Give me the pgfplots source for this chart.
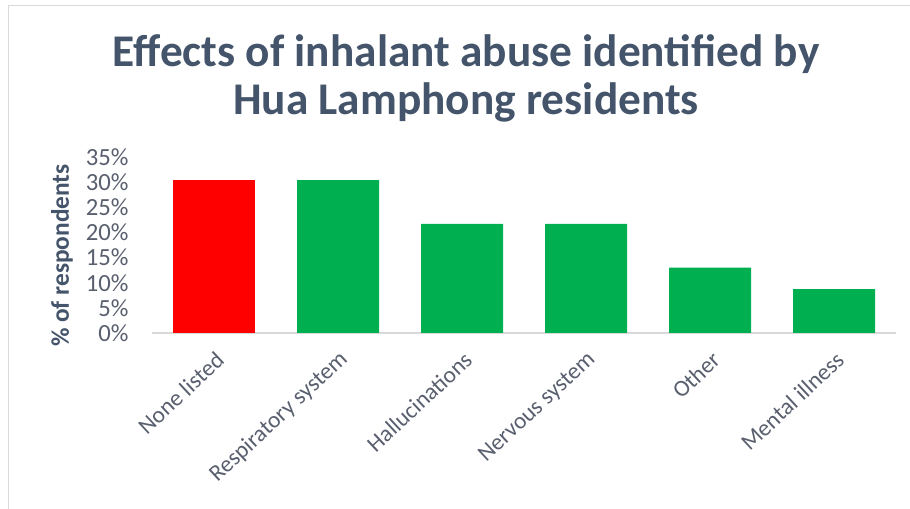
\documentclass[border=0pt]{standalone}
\usepackage{pgfplots}
\pgfplotsset{compat=1.18}
\usepackage{fontspec}
\setmainfont{Carlito}
\definecolor{titlecol}{HTML}{44546A}
\definecolor{tickcol}{HTML}{595F6E}
\definecolor{barred}{HTML}{FF0000}
\definecolor{bargreen}{HTML}{00B050}
\definecolor{framecol}{HTML}{D9D9D9}

\begin{document}
\begin{tikzpicture}
  \useasboundingbox (0,0) rectangle (682.5pt,381.75pt);
  % chart frame (only top and left edges show)
  \draw[framecol] (6pt,0pt) -- (6pt,378pt) -- (682.5pt,378pt);
  \node[font=\bfseries\fontsize{34}{40}\selectfont, text=titlecol] at (349.5pt,341pt) {Effects of inhalant abuse identified by};
  \node[font=\bfseries\fontsize{34}{40}\selectfont, text=titlecol] at (349.5pt,305pt) {Hua Lamphong residents};
  \begin{axis}[
      at={(114pt,132pt)}, anchor=south west,
      scale only axis, width=558pt, height=132pt,
      ybar, bar width=61.5pt, bar shift=0pt,
      xmin=-0.5, xmax=5.5, ymin=0, ymax=35,
      xtick={0,...,5},
      xticklabels={None listed, Respiratory system, Hallucinations, Nervous system, Other, Mental illness},
      ytick={0,5,...,35},
      yticklabel={\pgfmathprintnumber{\tick}\%},
      /pgf/number format/assume math mode=true,
      axis y line*=left, axis x line*=bottom,
      y axis line style={draw=none},
      x axis line style={framecol, line width=0.8pt},
      major tick length=0pt,
      axis line style={-},
      ytick style={draw=none}, xtick style={draw=none},
      y tick label style={font=\fontsize{18.5}{20}\selectfont, text=tickcol, xshift=-14pt},
      x tick label style={font=\fontsize{17.5}{19}\selectfont, text=tickcol, rotate=43, anchor=east, xshift=-5pt, yshift=-16pt},
      ylabel={\% of respondents},
      ylabel style={font=\bfseries\fontsize{19}{21}\selectfont, text=titlecol, at={(axis description cs:-0.121,0.44)}, anchor=center, rotate=0},
      clip=false,
    ]
    \addplot[fill=barred, draw=none] coordinates {(0,30.4)};
    \addplot[fill=bargreen, draw=none] coordinates {(1,30.4) (2,21.7) (3,21.7) (4,13.0) (5,8.7)};
  \end{axis}
\end{tikzpicture}
\end{document}
